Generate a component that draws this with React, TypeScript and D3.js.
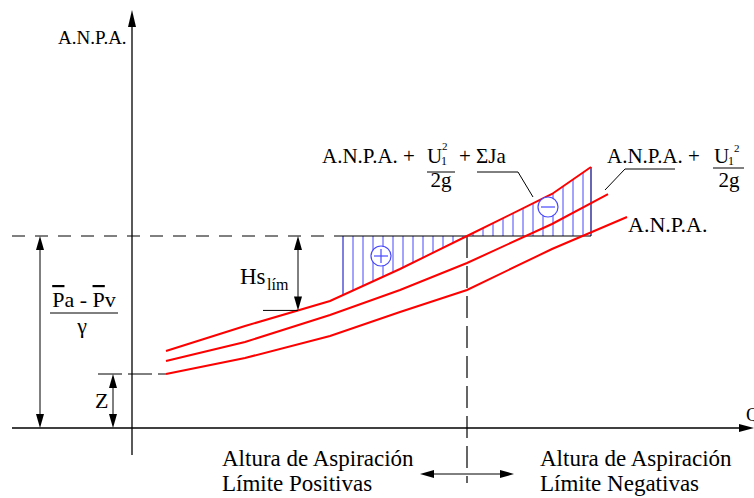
import React from 'react'
import * as d3 from 'd3'

const width = 754
const height = 498

// caudal Q (horizontal) and altura (vertical), measured from the origin of the axes
const qCurves = [34, 113, 198, 268, 335, 420, 495]
const hAnpaJa = [77, 102, 127, 159, 192, 234, 286]      // A.N.P.A. + U1²/2g + ΣJa
const hAnpaU = [67, 86, 113, 138, 165, 204, 244]        // A.N.P.A. + U1²/2g
const hAnpa = [54, 70, 92, 116, 138, 179, 211]          // A.N.P.A.

const endAnpaJa = 459
const endAnpaU = 476
const endAnpa = 495

const nivelPaPv = 192   // (Pa - Pv)/γ
const nivelZ = 54       // Z
const qLim = 335        // punto límite
const qHatchStart = 211

const labelsBottom = ['Altura de Aspiración', 'Límite Positivas', 'Límite Negativas']

const xScale = d3.scaleLinear().domain([0, 620]).range([132, 752])
const yScale = d3.scaleLinear().domain([0, 420]).range([428, 8])

const interp = (qs: number[], hs: number[], q: number) => {
  for (let i = 0; i < qs.length - 1; i++) {
    if (q >= qs[i] && q <= qs[i + 1]) {
      const t = (q - qs[i]) / (qs[i + 1] - qs[i])
      return hs[i] + t * (hs[i + 1] - hs[i])
    }
  }
  return hs[hs.length - 1]
}

const curvePoints = (hs: number[], qEnd: number) => {
  const pts: [number, number][] = []
  qCurves.forEach((q, i) => {
    if (q < qEnd) pts.push([q, hs[i]])
  })
  pts.push([qEnd, interp(qCurves, hs, qEnd)])
  return pts
}

const line = d3.line<[number, number]>()
  .x(d => xScale(d[0]))
  .y(d => yScale(d[1]))

const arrow = (x: number, y: number, dir: string, len = 14, hw = 4) => {
  if (dir === 'up') return `M${x},${y}L${x - hw},${y + len}L${x + hw},${y + len}Z`
  if (dir === 'down') return `M${x},${y}L${x - hw},${y - len}L${x + hw},${y - len}Z`
  if (dir === 'left') return `M${x},${y}L${x + len},${y - hw}L${x + len},${y + hw}Z`
  return `M${x},${y}L${x - len},${y - hw}L${x - len},${y + hw}Z`
}

const font = "'Liberation Serif', 'Times New Roman', serif"
const blue = '#4848ff'

const App = () => {
  const x0 = xScale(0)
  const y0 = yScale(0)
  const yRef = yScale(nivelPaPv)
  const yZ = yScale(nivelZ)
  const xLim = xScale(qLim)
  const xStart = xScale(qHatchStart)
  const xEnd = xScale(endAnpaJa)

  const hatch: number[] = []
  for (let px = xStart; px < xEnd - 2; px += 10) hatch.push(px)

  const yHs = yScale(interp(qCurves, hAnpaJa, xScale.invert(298)))

  return (
    <svg width={width} height={height}
      style={{ position: 'absolute', left: 0, top: 0, background: '#fff', fontFamily: font }}>
      {/* hatch */}
      {hatch.map(px => (
        <line key={px} x1={px} x2={px} y1={yRef}
          y2={yScale(interp(qCurves, hAnpaJa, xScale.invert(px)))}
          stroke={px === xStart ? '#0000c0' : blue} strokeWidth={1} />
      ))}
      <line x1={xEnd} x2={xEnd} y1={yRef} y2={yScale(interp(qCurves, hAnpaJa, endAnpaJa))} stroke='#000080' strokeWidth={1.2} />

      {/* axes */}
      <line x1={x0} x2={x0} y1={24} y2={455} stroke='#000' strokeWidth={1.3} />
      <path d={arrow(x0, 10, 'up', 17, 4)} fill='#000' />
      <line x1={12} x2={742} y1={y0} y2={y0} stroke='#000' strokeWidth={1.3} />
      <path d={arrow(754, y0, 'right', 15, 4)} fill='#000' />
      <text x={58} y={44} fontSize={19}>A.N.P.A.</text>
      <text x={746} y={421} fontSize={19}>Q</text>

      {/* reference levels */}
      <line x1={12} x2={xStart} y1={yRef} y2={yRef} stroke='#000' strokeDasharray='13,10' strokeWidth={1} />
      <line x1={xStart} x2={xEnd} y1={yRef} y2={yRef} stroke='#000' strokeWidth={1.2} />
      <line x1={98} x2={xScale(qCurves[0])} y1={yZ} y2={yZ} stroke='#000' strokeDasharray='24,6' strokeWidth={1} />
      <line x1={xLim} x2={xLim} y1={yRef} y2={483} stroke='#000' strokeDasharray='22,8' strokeWidth={1.2} />

      {/* curves */}
      <path d={line(curvePoints(hAnpaJa, endAnpaJa)) ?? ''} fill='none' stroke='#ff0000' strokeWidth={2} />
      <path d={line(curvePoints(hAnpaU, endAnpaU)) ?? ''} fill='none' stroke='#ff0000' strokeWidth={2} />
      <path d={line(curvePoints(hAnpa, endAnpa)) ?? ''} fill='none' stroke='#ff0000' strokeWidth={2} />

      {/* + and - */}
      <circle cx={381} cy={256} r={10} fill='#fff' stroke={blue} strokeWidth={1.2} />
      <line x1={374} x2={388} y1={256} y2={256} stroke={blue} strokeWidth={1.2} />
      <line x1={381} x2={381} y1={249} y2={263} stroke={blue} strokeWidth={1.2} />
      <circle cx={548} cy={207} r={10} fill='#fff' stroke={blue} strokeWidth={1.2} />
      <line x1={541} x2={555} y1={207} y2={207} stroke={blue} strokeWidth={1.2} />

      {/* (Pa - Pv)/γ */}
      <line x1={40} x2={40} y1={yRef + 10} y2={y0 - 10} stroke='#000' strokeWidth={1} />
      <path d={arrow(40, yRef, 'up')} fill='#000' />
      <path d={arrow(40, y0, 'down')} fill='#000' />
      <text x={84} y={307} fontSize={22} textAnchor='middle'>
        <tspan style={{ textDecoration: 'overline' }}>P</tspan>a - <tspan style={{ textDecoration: 'overline' }}>P</tspan>v
      </text>
      <line x1={50} x2={118} y1={313} y2={313} stroke='#000' strokeWidth={1} />
      <text x={82} y={333} fontSize={22} textAnchor='middle'>γ</text>

      {/* Z */}
      <line x1={113} x2={113} y1={yZ + 10} y2={y0 - 10} stroke='#000' strokeWidth={1} />
      <path d={arrow(113, yZ, 'up')} fill='#000' />
      <path d={arrow(113, y0, 'down')} fill='#000' />
      <text x={95} y={408} fontSize={22}>Z</text>

      {/* Hs lím */}
      <line x1={298} x2={298} y1={yRef + 10} y2={yHs - 10} stroke='#000' strokeWidth={1} />
      <path d={arrow(298, yRef, 'up')} fill='#000' />
      <path d={arrow(298, yHs, 'down')} fill='#000' />
      <line x1={263} x2={298} y1={yHs} y2={yHs} stroke='#000' strokeWidth={1} />
      <text x={240} y={284} fontSize={23}>Hs</text>
      <text x={267} y={290} fontSize={16}>lím</text>

      {/* label A.N.P.A. + U1²/2g + ΣJa */}
      <text x={322} y={163} fontSize={21}>A.N.P.A. +</text>
      <text x={427} y={163} fontSize={21}>U</text>
      <text x={441} y={165} fontSize={12}>1</text>
      <text x={442} y={150} fontSize={11}>2</text>
      <line x1={427} x2={455} y1={172} y2={172} stroke='#000' strokeWidth={1} />
      <text x={441} y={187} fontSize={21} textAnchor='middle'>2g</text>
      <text x={459} y={163} fontSize={21}>+ ΣJa</text>
      <polyline points={`477,172 518,172 533,197`} fill='none' stroke='#000' strokeWidth={1} />

      {/* label A.N.P.A. + U1²/2g */}
      <text x={607} y={163} fontSize={21}>A.N.P.A. +</text>
      <text x={714} y={163} fontSize={21}>U</text>
      <text x={728} y={165} fontSize={12}>1</text>
      <text x={734} y={152} fontSize={11}>2</text>
      <line x1={713} x2={744} y1={168} y2={168} stroke='#000' strokeWidth={1} />
      <text x={729} y={187} fontSize={21} textAnchor='middle'>2g</text>
      <polyline points={`675,169 625,169 605,190`} fill='none' stroke='#000' strokeWidth={1} />

      {/* label A.N.P.A. */}
      <text x={628} y={232} fontSize={22}>A.N.P.A.</text>

      {/* bottom */}
      <line x1={434} x2={500} y1={474} y2={474} stroke='#000' strokeWidth={1} />
      <path d={arrow(420, 474, 'left')} fill='#000' />
      <path d={arrow(514, 474, 'right')} fill='#000' />
      <text x={222} y={466} fontSize={23}>{labelsBottom[0]}</text>
      <text x={222} y={491} fontSize={23}>{labelsBottom[1]}</text>
      <text x={540} y={466} fontSize={23}>{labelsBottom[0]}</text>
      <text x={540} y={491} fontSize={23}>{labelsBottom[2]}</text>
    </svg>
  )
}

export default App
